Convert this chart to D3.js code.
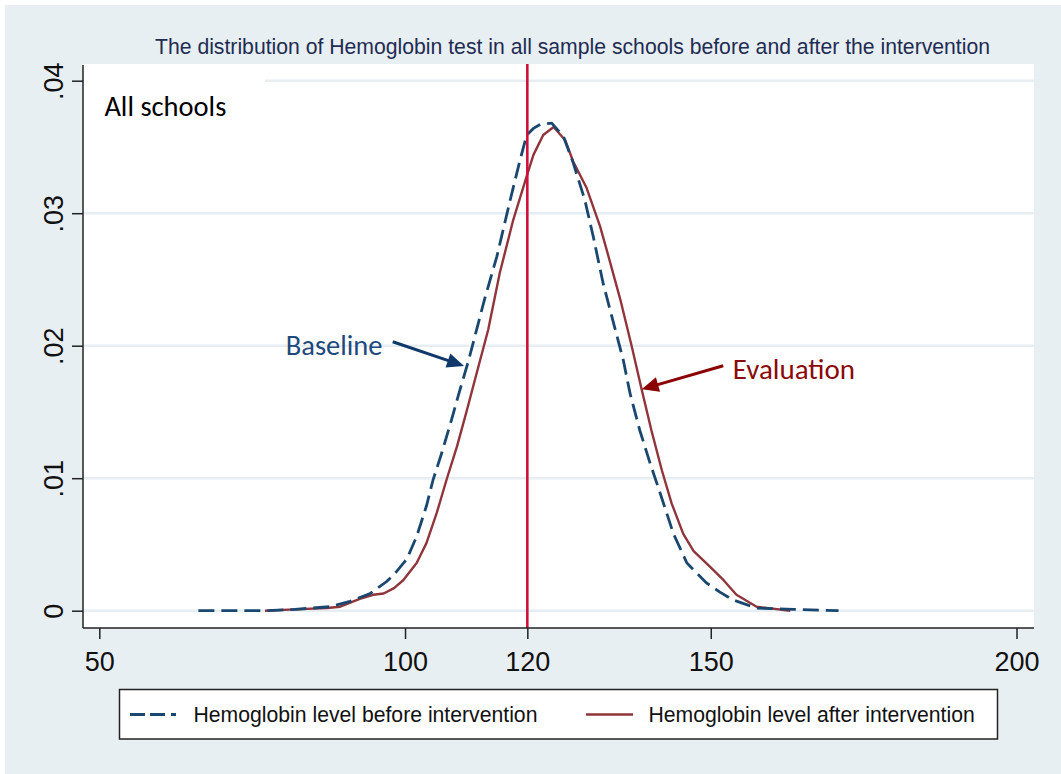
<!DOCTYPE html>
<html>
<head>
<meta charset="utf-8">
<script src="https://cdn.jsdelivr.net/npm/d3@7"></script>
<style>
  html, body { margin: 0; padding: 0; background: #ffffff; }
  svg { display: block; }
</style>
</head>
<body>
<svg id="chart" width="1061" height="774"></svg>
<script>
// ---------------- data ----------------
const xTicks = [50, 100, 120, 150, 200];
const yTicks = [0, 0.01, 0.02, 0.03, 0.04];
const yTickLabels = ["0", ".01", ".02", ".03", ".04"];
const cutoff = 120;

// Hemoglobin level (g/L) and kernel density, before intervention (baseline)
const baselineHb = [66.2, 72, 77, 82, 87.7, 91.0, 94.3, 97.0, 98.5, 100.3, 101.9, 103.5, 104.6, 106.0, 107.6, 109.0, 110.4, 111.7, 113.0, 115.0, 117.2, 118.8, 119.9, 121.0, 122.1, 124.0, 125.9, 127.5, 129.4, 130.8, 132.4, 134.1, 135.7, 136.8, 138.4, 140.1, 141.7, 143.9, 146.1, 149.3, 151.5, 153.7, 157.5, 163.5, 170.9];
const baselineDensity = [0, 0, 0, 0.0001, 0.0003, 0.0007, 0.0013, 0.0022, 0.0029, 0.0039, 0.0056, 0.0079, 0.0099, 0.0119, 0.0144, 0.0167, 0.0189, 0.0212, 0.0235, 0.0267, 0.0310, 0.0340, 0.0359, 0.0364, 0.0367, 0.0368, 0.0358, 0.0338, 0.0310, 0.0282, 0.0247, 0.0217, 0.0189, 0.0164, 0.0136, 0.0111, 0.0089, 0.0058, 0.0036, 0.0021, 0.0014, 0.0008, 0.0002, 0.0001, 0];

// after intervention (evaluation)
const evaluationHb = [77.1, 82, 87.2, 89.4, 92.6, 94.8, 96.5, 98.2, 99.7, 101.9, 103.5, 105.2, 106.8, 108.5, 110.1, 111.7, 113.6, 115.5, 117.7, 119.9, 121.0, 122.6, 124.3, 126.2, 127.5, 129.7, 131.9, 133.0, 135.2, 137.1, 138.7, 140.3, 142.0, 143.6, 145.5, 147.2, 149.9, 152.1, 154.2, 157.5, 163.0];
const evaluationDensity = [0, 0.0001, 0.0002, 0.0003, 0.0009, 0.0012, 0.0013, 0.0017, 0.0023, 0.0036, 0.0051, 0.0074, 0.0099, 0.0124, 0.0151, 0.0179, 0.0212, 0.0255, 0.0295, 0.0328, 0.0344, 0.0359, 0.0365, 0.0355, 0.0339, 0.0319, 0.0290, 0.0272, 0.0235, 0.0199, 0.0167, 0.0136, 0.0106, 0.0081, 0.0058, 0.0045, 0.0033, 0.0023, 0.0012, 0.0003, 0];

const titleText = "The distribution of Hemoglobin test in all sample schools before and after the intervention";
const legendLabels = ["Hemoglobin level before intervention", "Hemoglobin level after intervention"];

// ---------------- layout ----------------
const W = 1061, H = 774;
const plot = { left: 83, right: 1034, top: 64, bottom: 628 };
const C = {
  bg: "#e8eff2", grid: "#e6eef1", navy: "#1a476f", maroon: "#90353b",
  cut: "#d0103a", title: "#1f2c52", baseTxt: "#1f497d", baseArrow: "#10386b",
  evalTxt: "#8b0a0a", evalArrow: "#8b0000"
};
const ARIAL = "Arial, 'Liberation Sans', Helvetica, sans-serif";
const CAL = "Carlito, Calibri, Lato, sans-serif";

const svg = d3.select("#chart");

const x = d3.scaleLinear().domain([50, 200]).range([99.3, 1016.5]);
const y = d3.scaleLinear().domain([0, 0.04]).range([610.7, 80.7]);

// background
svg.append("rect").attr("x", 5).attr("y", 5).attr("width", W - 5).attr("height", H - 5).attr("fill", C.bg);
// plot region
svg.append("rect").attr("x", plot.left).attr("y", plot.top)
  .attr("width", plot.right - plot.left).attr("height", plot.bottom - plot.top).attr("fill", "#ffffff");

// gridlines
svg.append("g").selectAll("line").data(yTicks).join("line")
  .attr("x1", plot.left + 1).attr("x2", plot.right)
  .attr("y1", d => y(d)).attr("y2", d => y(d))
  .attr("stroke", C.grid).attr("stroke-width", 2.5);

// "All schools" white text box
svg.append("rect").attr("x", plot.left + 1).attr("y", plot.top)
  .attr("width", 181).attr("height", 72).attr("fill", "#ffffff");
svg.append("text").attr("x", x(50.83)).attr("y", y(0.03734))
  .attr("font-family", CAL).attr("font-size", 28.5).attr("fill", "#000")
  .text("All schools");

// title
svg.append("text").attr("x", 572.5).attr("y", 54).attr("text-anchor", "middle")
  .attr("font-family", ARIAL).attr("font-size", 21.2).attr("fill", C.title)
  .text(titleText);

// curves
const lineB = d3.line().x((d, i) => x(baselineHb[i])).y(d => y(d));
const lineE = d3.line().x((d, i) => x(evaluationHb[i])).y(d => y(d));

svg.append("path").datum(evaluationDensity).attr("d", lineE)
  .attr("fill", "none").attr("stroke", C.maroon).attr("stroke-width", 2.4)
  .attr("stroke-linejoin", "round");
svg.append("path").datum(baselineDensity).attr("d", lineB)
  .attr("fill", "none").attr("stroke", C.navy).attr("stroke-width", 2.8)
  .attr("stroke-dasharray", "16,7");

// cutoff line
svg.append("line").attr("x1", x(cutoff)).attr("x2", x(cutoff))
  .attr("y1", plot.top).attr("y2", plot.bottom)
  .attr("stroke", C.cut).attr("stroke-width", 2.6);

// axes
const xAxis = svg.append("g").attr("transform", `translate(0,${plot.bottom})`)
  .call(d3.axisBottom(x).tickValues(xTicks).tickSize(11).tickFormat(d3.format("d")));
xAxis.select(".domain").remove();
xAxis.selectAll(".tick line").attr("stroke", "#222").attr("stroke-width", 1.5);
xAxis.selectAll(".tick text").attr("dy", null).attr("y", 42.5)
  .attr("font-family", ARIAL).attr("font-size", 27).attr("fill", "#111");

const yAxis = svg.append("g").attr("transform", `translate(${plot.left},0)`)
  .call(d3.axisLeft(y).tickValues(yTicks).tickSize(11).tickFormat((d, i) => yTickLabels[i]));
yAxis.select(".domain").remove();
yAxis.selectAll(".tick line").attr("stroke", "#222").attr("stroke-width", 1.5);
yAxis.selectAll(".tick text").attr("x", null).attr("dy", null)
  .attr("transform", "translate(-20,0) rotate(-90)").attr("text-anchor", "middle")
  .attr("font-family", ARIAL).attr("font-size", 27).attr("fill", "#111");

// frame lines
svg.append("line").attr("x1", plot.left).attr("x2", plot.left).attr("y1", plot.top + 1).attr("y2", plot.bottom)
  .attr("stroke", "#222").attr("stroke-width", 1.5);
svg.append("line").attr("x1", plot.left).attr("x2", plot.right).attr("y1", plot.bottom).attr("y2", plot.bottom)
  .attr("stroke", "#222").attr("stroke-width", 1.5);

// annotations with arrows
function arrow(x1, y1, x2, y2, color, width) {
  const ang = Math.atan2(y2 - y1, x2 - x1);
  const L = 17, Wd = 7.5;
  const bx = x2 - L * Math.cos(ang), by = y2 - L * Math.sin(ang);
  svg.append("line").attr("x1", x1).attr("y1", y1).attr("x2", bx + 2 * Math.cos(ang)).attr("y2", by + 2 * Math.sin(ang))
    .attr("stroke", color).attr("stroke-width", width);
  const px = -Math.sin(ang), py = Math.cos(ang);
  svg.append("polygon")
    .attr("points", [[x2, y2], [bx + px * Wd, by + py * Wd], [bx - px * Wd, by - py * Wd]].map(p => p.join(",")).join(" "))
    .attr("fill", color);
}
svg.append("text").attr("x", x(80.5)).attr("y", y(0.0193))
  .attr("font-family", CAL).attr("font-size", 28.5).attr("fill", C.baseTxt).text("Baseline");
arrow(x(97.99), y(0.0203), x(109.65), y(0.01847), C.baseArrow, 3);

svg.append("text").attr("x", x(153.6)).attr("y", y(0.01746))
  .attr("font-family", CAL).attr("font-size", 29).attr("fill", C.evalTxt).text("Evaluation");
arrow(x(152.04), y(0.01849), x(138.7), y(0.01671), C.evalArrow, 3);

// legend
const lg = svg.append("g");
lg.append("rect").attr("x", 119.5).attr("y", 689.5).attr("width", 878).attr("height", 49.5)
  .attr("fill", "#ffffff").attr("stroke", "#222").attr("stroke-width", 1.5);
lg.append("line").attr("x1", 130).attr("x2", 177.5).attr("y1", 714.5).attr("y2", 714.5)
  .attr("stroke", C.navy).attr("stroke-width", 2.8).attr("stroke-dasharray", "15,5,15,6,5,2");
lg.append("text").attr("x", 193.5).attr("y", 722).attr("font-family", ARIAL).attr("font-size", 21.2)
  .attr("fill", "#111").text(legendLabels[0]);
lg.append("line").attr("x1", 586).attr("x2", 633).attr("y1", 714.5).attr("y2", 714.5)
  .attr("stroke", C.maroon).attr("stroke-width", 2.4);
lg.append("text").attr("x", 648.5).attr("y", 722).attr("font-family", ARIAL).attr("font-size", 21.2)
  .attr("fill", "#111").text(legendLabels[1]);
</script>
</body>
</html>
